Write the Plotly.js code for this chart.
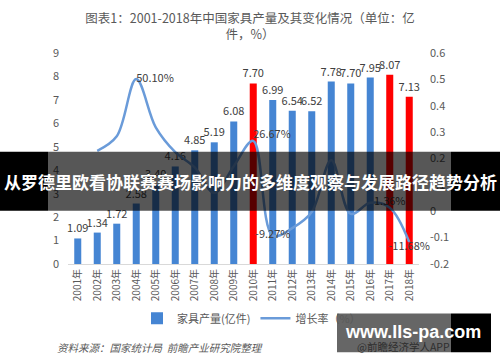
<!DOCTYPE html>
<html>
<head>
<meta charset="utf-8">
<script src="https://cdn.plot.ly/plotly-3.0.1.min.js"></script>
<style>html,body{margin:0;padding:0;background:#fff;}#chart{width:500px;height:362px;}</style>
</head>
<body>
<div id="chart"></div>
<script>
const years = ['2001年','2002年','2003年','2004年','2005年','2006年','2007年','2008年','2009年','2010年','2011年','2012年','2013年','2014年','2015年','2016年','2017年','2018年'];
const production = [1.09,1.34,1.72,2.58,3.40,4.16,4.85,5.19,6.08,7.70,6.99,6.54,6.52,7.78,7.70,7.95,8.07,7.13];
const productionLabels = ['1.09','1.34','1.72','2.58','3.40','4.16','4.85','5.19','6.08','7.70','6.99','6.54','6.52','7.78','7.70','7.95','8.07','7.13'];
const growth = [null,0.229,0.284,0.501,0.318,0.224,0.166,0.070,0.171,0.2667,-0.0927,-0.064,-0.003,0.193,-0.010,0.032,0.0136,-0.1168];
const growthLabels = ['','','','50.10%','','','','','','26.67%','-9.27%','','','','','','1.36%','-11.68%'];
const highlightYears = ['2010年','2017年','2018年'];
const leftTicks = [0,1,2,3,4,5,6,7,8,9];
const rightTickVals = [-0.2,-0.1,0,0.1,0.2,0.3,0.4,0.5,0.6];
const rightTickText = ['-0.2','-0.1','0','0.1','0.2','0.3','0.4','0.5','0.6'];
const titleText = '图表1：2001-2018年中国家具产量及其变化情况（单位：亿<br>件，%）';
const bannerText = '从罗德里欧看协联赛赛场影响力的多维度观察与发展路径趋势分析';
const sourceText = '资料来源：国家统计局  前瞻产业研究院整理';
const siteText = 'www.lls-pa.com';
const appText = '@前瞻经济学人APP';

const BLUE = '#4585d3', RED = '#ff0000', LINE = '#6a9bd9';
const barColors = years.map(y => highlightYears.includes(y) ? RED : BLUE);
const labelPos = ['','','','middle right','','','','','','top right','middle center','','','','','','top center','bottom center'];

// pixel -> paper helpers (plot area: x 68..419, y 53..264.5)
const L = 68, R = 419, T = 53, B = 264.5;
const px = x => (x - L) / (R - L);
const py = y => (B - y) / (B - T);

const cjk = '"Noto Sans CJK SC", "Noto Sans", sans-serif';

const traces = [
  {
    type: 'bar', name: '家具产量(亿件)', x: years, y: production,
    marker: {color: barColors}, width: 0.36,
    text: productionLabels, textposition: 'outside', cliponaxis: false, constraintext: 'none',
    textfont: {size: 11, color: '#404040', family: cjk},
    hoverinfo: 'x+y'
  },
  {
    type: 'scatter', mode: 'lines+text', name: '增长率（%）', x: years, y: growth,
    yaxis: 'y2', line: {color: LINE, width: 2.5, shape: 'spline', smoothing: 1},
    text: growthLabels, textposition: labelPos, cliponaxis: false,
    textfont: {size: 11, color: '#404040', family: cjk},
    connectgaps: false
  }
];

const layout = {
  width: 500, height: 362,
  margin: {l: L, r: 500 - R, t: T, b: 362 - B},
  paper_bgcolor: '#fff', plot_bgcolor: '#fff',
  font: {family: cjk, color: '#595959', size: 11},
  title: {text: titleText, x: 0.5, xanchor: 'center', y: 0.937, yanchor: 'top', yref: 'container',
          font: {size: 12.5, color: '#595959', family: cjk}},
  showlegend: true,
  legend: {orientation: 'h', x: px(137), xanchor: 'left', y: py(319), yanchor: 'middle',
           font: {size: 11, color: '#595959', family: cjk}, bgcolor: 'rgba(0,0,0,0)', itemwidth: 30},
  xaxis: {type: 'category', tickangle: -90, showline: true, linecolor: '#d9d9d9', linewidth: 1,
          ticks: '', showgrid: false, tickfont: {size: 10, color: '#595959'}, range: [-0.5, 17.5]},
  yaxis: {range: [0, 9], tickvals: leftTicks, showgrid: false, zeroline: false, showline: false,
          ticks: '', tickfont: {size: 11, color: '#595959'}, ticklabelstandoff: 8},
  yaxis2: {overlaying: 'y', side: 'right', range: [-0.2, 0.6], tickvals: rightTickVals, ticktext: rightTickText,
           showgrid: false, zeroline: false, showline: false, ticks: '',
           tickfont: {size: 11, color: '#595959'}, ticklabelstandoff: 10},
  shapes: [
    {type: 'rect', xref: 'paper', yref: 'paper', x0: px(0), x1: px(48), y0: py(211), y1: py(152),
     fillcolor: '#000', line: {width: 0}, layer: 'above'},
    {type: 'rect', xref: 'paper', yref: 'paper', x0: px(48), x1: px(451), y0: py(211), y1: py(152),
     fillcolor: 'rgba(0,0,0,0.66)', line: {width: 0}, layer: 'above'},
    {type: 'rect', xref: 'paper', yref: 'paper', x0: px(451), x1: px(500), y0: py(211), y1: py(152),
     fillcolor: '#000', line: {width: 0}, layer: 'above'},
    {type: 'rect', xref: 'paper', yref: 'paper', x0: px(337), x1: px(451), y0: py(353), y1: py(314),
     fillcolor: 'rgba(0,0,0,0.6)', line: {width: 0}, layer: 'above'},
    {type: 'rect', xref: 'paper', yref: 'paper', x0: px(451), x1: px(491), y0: py(353), y1: py(314),
     fillcolor: '#000', line: {width: 0}, layer: 'above'}
  ],
  annotations: [
    {text: bannerText, xref: 'paper', yref: 'paper', x: px(250), y: py(182), xanchor: 'center', yanchor: 'middle',
     showarrow: false, font: {size: 17, color: '#ffffff', family: cjk, weight: 'bold'}},
    {text: sourceText, xref: 'paper', yref: 'paper', x: px(55), y: py(348), xanchor: 'left', yanchor: 'middle',
     showarrow: false, font: {size: 10.5, color: '#595959', family: cjk, style: 'italic'}},
    {text: appText, xref: 'paper', yref: 'paper', x: px(403), y: py(347), xanchor: 'center', yanchor: 'middle',
     showarrow: false, font: {size: 10.5, color: '#2e2e2e', family: cjk}},
    {text: siteText, xref: 'paper', yref: 'paper', x: px(413), y: py(333), xanchor: 'center', yanchor: 'middle',
     showarrow: false, font: {size: 18, color: '#ffffff', family: '"Liberation Sans", Arial, sans-serif', weight: 'bold'}}
  ]
};

Plotly.newPlot('chart', traces, layout, {staticPlot: true, displayModeBar: false});
</script>
</body>
</html>
